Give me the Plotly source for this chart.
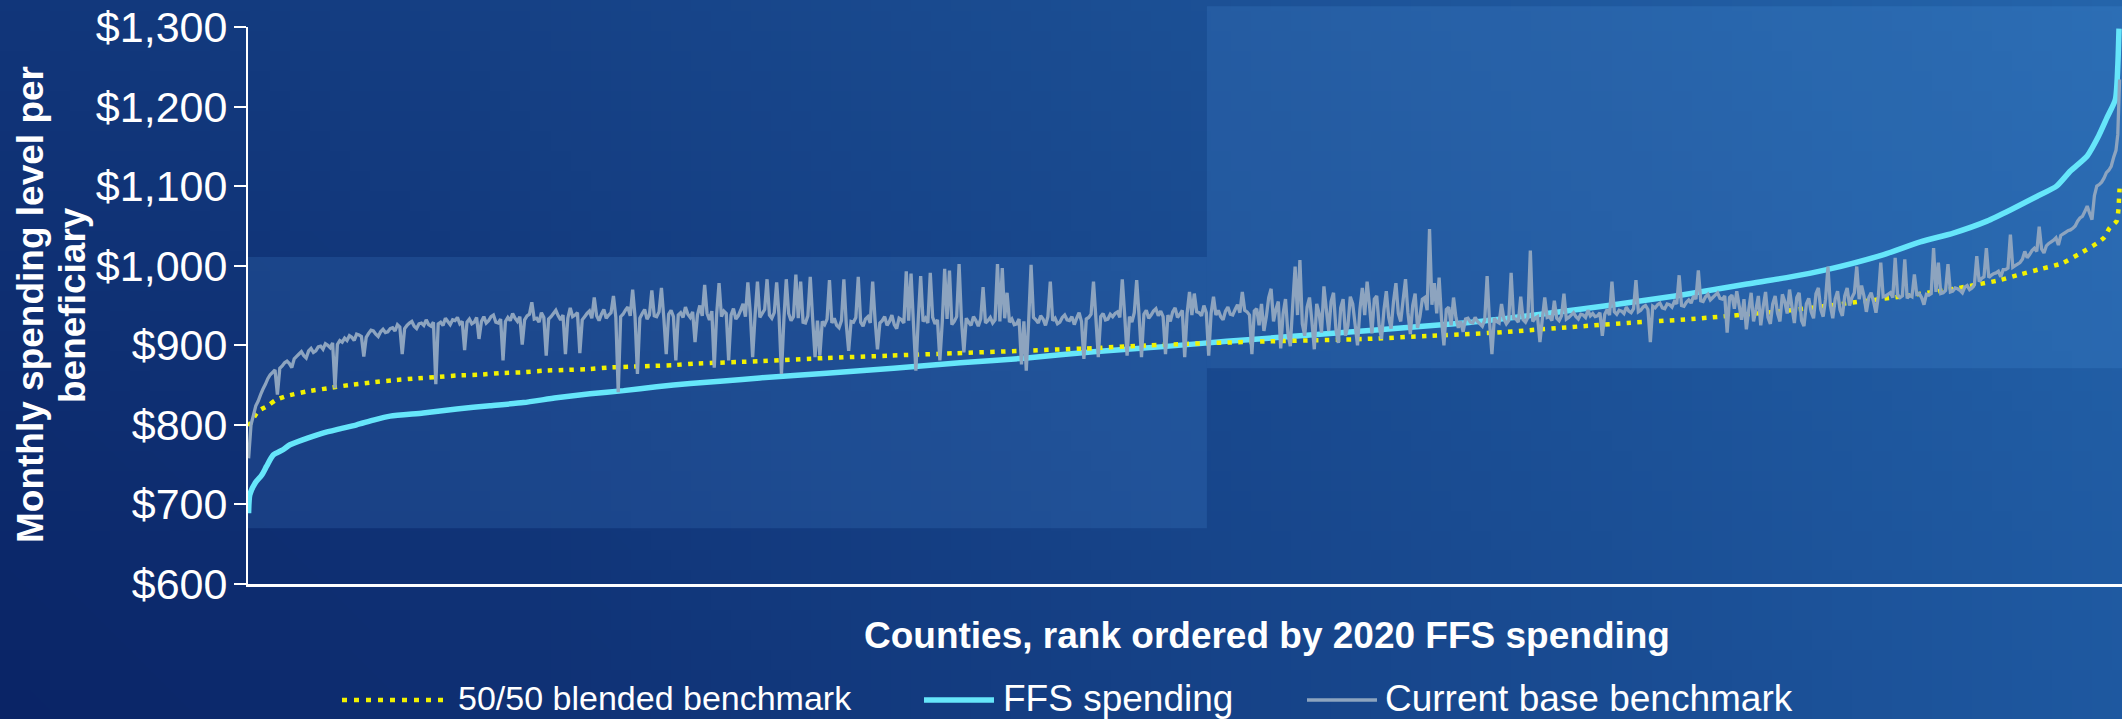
import base64
import struct
import zlib

import plotly.graph_objects as go

# ---------------------------------------------------------------------------
# Data: counties ranked by 2020 FFS spending (monthly $ per beneficiary)
# ---------------------------------------------------------------------------
ffs_rank = [1, 3, 12, 23, 31, 42, 59, 70, 98, 126, 153, 181, 209, 237, 292, 348,
            403, 459, 514, 570, 626, 681, 737, 792, 853, 964, 1076, 1187, 1298,
            1409, 1520, 1631, 1720, 2026, 2164, 2276, 2387, 2498, 2564, 2631,
            2726, 2787, 2842, 2898, 2937, 2981, 3014, 3037, 3065, 3084, 3098,
            3112, 3116, 3118]
ffs_spending = [689, 712, 727, 737, 748, 762, 769, 775, 783, 790, 795, 800, 806,
                811, 815, 820, 824, 828, 834, 839, 843, 848, 852, 855, 859, 865,
                871, 878, 884, 892, 898, 905, 910, 928, 940, 951, 963, 977, 985,
                995, 1014, 1030, 1041, 1056, 1070, 1087, 1100, 1119, 1138, 1163,
                1186, 1209, 1251, 1298]

blend_rank = [1, 17, 33, 46, 63, 98, 133, 168, 203, 240, 275, 312, 348, 384, 420,
              456, 491, 527, 565, 600, 636, 672, 708, 744, 780, 816, 852, 962,
              1070, 1178, 1287, 1395, 1503, 1612, 1703, 1864, 1973, 2081, 2189,
              2298, 2406, 2514, 2570, 2709, 2762, 2851, 2886, 2920, 2953, 2988,
              3023, 3052, 3081, 3094, 3102, 3114, 3117, 3118, 3119]
blended_benchmark = [798, 817, 824, 831, 836, 842, 846, 850, 853, 856, 858, 860,
                     862, 863, 865, 866, 868, 869, 870, 872, 873, 874, 875, 877,
                     878, 879, 880, 884, 887, 890, 893, 896, 900, 903, 905, 908,
                     912, 916, 922, 928, 933, 940, 944, 957, 962, 972, 977, 982,
                     989, 996, 1003, 1015, 1028, 1036, 1047, 1056, 1070, 1083,
                     1097]

# Current base benchmark, every 4th county in rank order plus the last two
base_rank = list(range(1, 3114, 4)) + [3116, 3119]
base_benchmark = [
    758, 800, 812, 824, 830, 838, 845, 851, 858, 863, 866, 869, 838, 871, 874, 878, 880, 877, 872, 883,
    886, 889, 892, 887, 884, 893, 896, 891, 893, 898, 899, 895, 902, 900, 897, 903, 846, 901, 906, 904,
    909, 906, 912, 910, 906, 914, 913, 911, 886, 910, 915, 919, 918, 914, 911, 917, 920, 916, 917, 921,
    922, 918, 926, 923, 889, 921, 925, 928, 930, 924, 921, 927, 928, 925, 932, 926, 924, 929, 851, 927,
    929, 925, 934, 930, 926, 932, 931, 935, 927, 930, 894, 929, 933, 927, 929, 935, 908, 930, 936, 928,
    931, 936, 938, 929, 928, 933, 881, 930, 935, 931, 940, 934, 930, 936, 901, 932, 937, 939, 954, 933,
    934, 929, 941, 935, 887, 933, 936, 940, 944, 937, 932, 938, 889, 934, 947, 936, 938, 941, 890, 932,
    936, 940, 943, 934, 960, 937, 931, 939, 945, 934, 938, 941, 962, 935, 841, 936, 939, 944, 948, 937,
    970, 936, 864, 934, 940, 945, 933, 938, 969, 937, 936, 942, 972, 934, 889, 939, 944, 936, 881, 938,
    941, 935, 948, 939, 935, 942, 904, 938, 950, 937, 976, 940, 932, 943, 872, 939, 978, 936, 943, 940,
    881, 938, 946, 933, 937, 944, 952, 936, 979, 941, 885, 937, 980, 935, 940, 945, 983, 938, 934, 941,
    979, 937, 864, 932, 983, 940, 931, 936, 989, 934, 980, 929, 928, 937, 986, 933, 885, 931, 887, 930,
    926, 933, 982, 928, 934, 925, 922, 931, 983, 927, 893, 930, 929, 935, 986, 929, 924, 933, 936, 928,
    980, 932, 895, 928, 931, 936, 925, 930, 938, 926, 921, 934, 932, 928, 993, 931, 990, 927, 868, 933,
    987, 930, 934, 928, 991, 935, 927, 932, 881, 929, 996, 933, 994, 926, 930, 936, 1002, 931, 891, 934,
    929, 925, 936, 931, 924, 933, 973, 928, 931, 935, 928, 932, 1002, 930, 997, 934, 966, 929, 933, 926,
    927, 933, 876, 930, 868, 931, 1001, 935, 932, 928, 937, 933, 925, 936, 980, 931, 934, 927, 929, 935,
    938, 932, 931, 936, 926, 934, 941, 930, 883, 933, 935, 939, 980, 934, 885, 936, 940, 932, 933, 939,
    936, 940, 942, 935, 983, 938, 887, 936, 929, 941, 982, 937, 885, 939, 944, 934, 938, 943, 946, 937,
    943, 936, 889, 938, 930, 942, 947, 935, 939, 944, 885, 940, 967, 938, 965, 942, 941, 937, 950, 941,
    887, 940, 961, 938, 944, 936, 932, 943, 948, 939, 938, 945, 951, 941, 967, 944, 942, 938, 889, 943,
    946, 925, 952, 918, 936, 960, 971, 930, 945, 955, 896, 940, 958, 915, 899, 950, 999, 938, 1007, 927,
    912, 948, 960, 930, 895, 952, 940, 916, 974, 945, 918, 955, 966, 920, 903, 947, 958, 912, 925, 961,
    952, 926, 900, 945, 972, 938, 980, 950, 915, 958, 962, 925, 908, 944, 968, 935, 921, 955, 978, 940,
    930, 957, 983, 941, 914, 950, 965, 922, 936, 958, 960, 944, 1046, 951, 978, 940, 985, 933, 900, 945,
    948, 925, 960, 935, 922, 930, 917, 933, 934, 929, 928, 935, 930, 927, 924, 932, 987, 929, 889, 934,
    930, 928, 952, 933, 927, 931, 991, 934, 933, 929, 961, 932, 929, 935, 1019, 930, 934, 936, 904, 933,
    960, 935, 936, 931, 956, 934, 931, 937, 965, 933, 935, 938, 941, 936, 933, 939, 938, 935, 944, 937,
    940, 936, 937, 941, 912, 939, 945, 938, 980, 942, 939, 944, 943, 940, 948, 943, 941, 946, 982, 942,
    944, 948, 950, 945, 904, 949, 947, 951, 953, 947, 946, 952, 951, 948, 955, 952, 988, 950, 949, 954,
    957, 953, 962, 958, 994, 956, 955, 961, 964, 957, 960, 963, 966, 959, 958, 962, 916, 960, 963, 946,
    968, 950, 932, 958, 920, 945, 966, 930, 945, 962, 925, 948, 967, 935, 927, 952, 962, 940, 930, 964,
    955, 940, 970, 948, 928, 960, 966, 931, 924, 952, 959, 942, 934, 965, 972, 945, 936, 958, 999, 950,
    934, 958, 968, 945, 937, 962, 972, 950, 960, 966, 999, 958, 975, 962, 942, 960, 966, 955, 941, 962,
    1004, 961, 962, 964, 966, 960, 1010, 963, 960, 962, 1008, 959, 963, 961, 989, 964, 965, 960, 951, 964,
    963, 965, 1022, 967, 1004, 965, 966, 969, 1002, 967, 968, 972, 971, 969, 966, 973, 975, 970, 972, 976,
    1012, 980, 984, 986, 1022, 985, 988, 990, 991, 993, 986, 995, 995, 997, 1039, 998, 1000, 1002, 1004, 1008,
    1018, 1010, 1014, 1019, 1022, 1018, 1049, 1021, 1016, 1025, 1028, 1030, 1032, 1035, 1026, 1038, 1040, 1042, 1044, 1045,
    1047, 1050, 1056, 1060, 1062, 1068, 1075, 1066, 1058, 1088, 1100, 1102, 1105, 1110, 1117, 1120, 1125, 1136, 1145,
    1165, 1234,
]
assert len(base_benchmark) == len(base_rank)

y_ticks = [600, 700, 800, 900, 1000, 1100, 1200, 1300]

# Shaded highlight bands: (first rank, last rank, low $, high $)
highlight_bands = [
    (0, 1598, 670, 1011),
    (1598, 3123, 871, 1326),
]

legend_items = [
    ("50/50 blended benchmark", "blend"),
    ("FFS spending", "ffs"),
    ("Current base benchmark", "base"),
]

# ---------------------------------------------------------------------------
# Styling / geometry
# ---------------------------------------------------------------------------
W, H = 2122, 719
M_L, M_R, M_T, M_B = 248, 0, 27, 135
PW, PH = W - M_L - M_R, H - M_T - M_B
X_RANGE = [0, 3123]
Y_RANGE = [600, 1300]
FONT = "Liberation Sans, Arial, Helvetica, sans-serif"

styles = {
    "ffs": dict(color="#66E6FA", width=5.5, dash="solid"),
    "blend": dict(color="#F2F200", width=4.5, dash="4.5px,6.3px"),
    "base": dict(color="#8DA4BF", width=3.3, dash="solid"),
}

# legend sample start/end and text start (px), text size, sample dash
legend_layout = {
    "blend": (342, 447, 456, 34, "5px,7px"),
    "ffs": (924, 994, 1001, 37, None),
    "base": (1307, 1377, 1383, 37, None),
}
LEGEND_Y = 698


def px_x(p):
    """Absolute pixel column -> paper x."""
    return (p - M_L) / PW


def px_y(p):
    """Absolute pixel row -> paper y."""
    return (H - M_B - p) / PH


def data_x(v):
    return (v - X_RANGE[0]) / (X_RANGE[1] - X_RANGE[0])


def data_y(v):
    return (v - Y_RANGE[0]) / (Y_RANGE[1] - Y_RANGE[0])


def gradient_png(w, h, tl, tr, bl, br):
    """Small RGB PNG with a bilinear colour blend between four corners."""
    rows = []
    for j in range(h):
        v = j / (h - 1)
        row = bytearray([0])
        for i in range(w):
            u = i / (w - 1)
            for c in range(3):
                top = tl[c] + (tr[c] - tl[c]) * u
                bot = bl[c] + (br[c] - bl[c]) * u
                row.append(int(round(top + (bot - top) * v)))
        rows.append(bytes(row))
    raw = b"".join(rows)

    def chunk(tag, data):
        return (struct.pack(">I", len(data)) + tag + data
                + struct.pack(">I", zlib.crc32(tag + data) & 0xFFFFFFFF))

    png = (b"\x89PNG\r\n\x1a\n"
           + chunk(b"IHDR", struct.pack(">IIBBBBB", w, h, 8, 2, 0, 0, 0))
           + chunk(b"IDAT", zlib.compress(raw, 9))
           + chunk(b"IEND", b""))
    return "data:image/png;base64," + base64.b64encode(png).decode()


background = gradient_png(
    106, 36,
    tl=(17, 54, 122), tr=(36, 100, 170),
    bl=(10, 36, 102), br=(30, 88, 160),
)

# ---------------------------------------------------------------------------
# Figure
# ---------------------------------------------------------------------------
fig = go.Figure()

fig.add_trace(go.Scatter(
    x=ffs_rank, y=ffs_spending, mode="lines", name="FFS spending",
    line=dict(color=styles["ffs"]["color"], width=styles["ffs"]["width"],
              shape="spline", smoothing=0.6, simplify=False),
    showlegend=False, hoverinfo="skip",
))
fig.add_trace(go.Scatter(
    x=blend_rank, y=blended_benchmark, mode="lines",
    name="50/50 blended benchmark",
    line=dict(color=styles["blend"]["color"], width=styles["blend"]["width"],
              dash=styles["blend"]["dash"], shape="spline", smoothing=0.6,
              simplify=False),
    showlegend=False, hoverinfo="skip",
))
fig.add_trace(go.Scatter(
    x=base_rank, y=base_benchmark, mode="lines", name="Current base benchmark",
    line=dict(color=styles["base"]["color"], width=styles["base"]["width"],
              simplify=False),
    showlegend=False, hoverinfo="skip",
))

fig.add_layout_image(
    source=background, xref="paper", yref="paper",
    x=px_x(0), y=px_y(0), sizex=W / PW, sizey=H / PH,
    xanchor="left", yanchor="top", sizing="stretch", layer="below",
)

shapes = []
for r0, r1, v0, v1 in highlight_bands:
    shapes.append(dict(
        type="rect", xref="paper", yref="paper",
        x0=data_x(r0), x1=data_x(r1), y0=data_y(v0), y1=data_y(v1),
        fillcolor="rgba(100,180,255,0.13)", line=dict(width=0), layer="below",
    ))

# Legend row along the bottom
annotations = []
for label, key in legend_items:
    s0, s1, tx, size, sample_dash = legend_layout[key]
    st = styles[key]
    shapes.append(dict(
        type="line", xref="paper", yref="paper",
        x0=px_x(s0), x1=px_x(s1), y0=px_y(LEGEND_Y + 2), y1=px_y(LEGEND_Y + 2),
        line=dict(color=st["color"], width=st["width"],
                  dash=sample_dash or st["dash"]),
    ))
    annotations.append(dict(
        text=label, xref="paper", yref="paper", x=px_x(tx), y=px_y(LEGEND_Y),
        xanchor="left", yanchor="middle", showarrow=False,
        font=dict(family=FONT, size=size, color="white"),
    ))

annotations.append(dict(
    text="Counties, rank ordered by 2020 FFS spending",
    xref="paper", yref="paper", x=px_x(1267), y=px_y(635),
    xanchor="center", yanchor="middle", showarrow=False,
    font=dict(family=FONT, size=37, color="white", weight="bold"),
))
for line_text, cx in (("Monthly spending level per", 30), ("beneficiary", 72)):
    annotations.append(dict(
        text=line_text, xref="paper", yref="paper", x=px_x(cx), y=px_y(305),
        xanchor="center", yanchor="middle", textangle=-90, showarrow=False,
        font=dict(family=FONT, size=37, color="white", weight="bold"),
    ))

fig.update_layout(
    width=W, height=H,
    margin=dict(l=M_L, r=M_R, t=M_T, b=M_B, pad=0),
    paper_bgcolor="#143f86",
    plot_bgcolor="rgba(0,0,0,0)",
    shapes=shapes,
    annotations=annotations,
    showlegend=False,
    xaxis=dict(
        range=X_RANGE, showgrid=False, zeroline=False, showticklabels=False,
        ticks="", showline=True, linecolor="white", linewidth=2.5,
        fixedrange=True,
    ),
    yaxis=dict(
        range=Y_RANGE, tickvals=y_ticks, tickformat="$,.0f",
        showgrid=False, zeroline=False, ticks="outside", ticklen=12,
        tickwidth=2, tickcolor="white", showline=True, linecolor="white",
        linewidth=2, ticklabelstandoff=-2,
        tickfont=dict(family=FONT, size=43, color="white"),
        fixedrange=True,
    ),
)

fig.write_html("out.html", config={"displayModeBar": False})
